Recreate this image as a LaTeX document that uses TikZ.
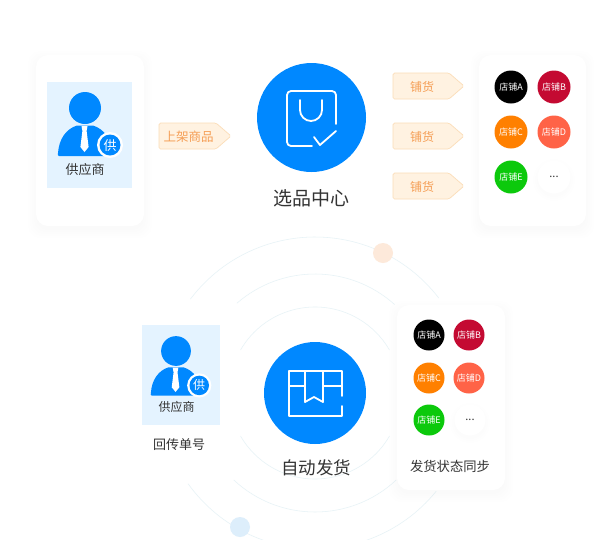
\documentclass[tikz,border=0pt]{standalone}
\usepackage{fontspec}
\setmainfont{Noto Sans CJK SC}
\definecolor{mainblue}{HTML}{0088FF}
\definecolor{panelblue}{HTML}{E4F3FF}
\definecolor{tagfill}{HTML}{FFF2E1}
\definecolor{tagline}{HTML}{FBDDB8}
\definecolor{tagtext}{HTML}{F59E55}
\definecolor{ringline}{HTML}{E6F2F6}
\definecolor{darktext}{HTML}{333333}
\definecolor{shopB}{HTML}{C40A32}
\definecolor{shopC}{HTML}{FF8000}
\definecolor{shopD}{HTML}{FF6347}
\definecolor{shopE}{HTML}{0CC90C}
\definecolor{dotorange}{HTML}{FDE9DA}
\definecolor{dotblue}{HTML}{DDEEFB}
\tikzset{
  x=1pt,y=-1pt,
  ring/.style={draw=ringline,line width=0.55pt},
  icon/.style={draw=white,line width=1.8pt,line cap=round,line join=round},
  hub/.style={circle,fill=mainblue,inner sep=0pt,minimum size=#1},
  shop/.style={circle,inner sep=0pt,text=white,font=\fontsize{9}{9}\selectfont,minimum size=#1},
  moredots/.style={circle,inner sep=0pt,fill=white,text=darktext,font=\fontsize{11}{11}\selectfont,minimum size=#1},
  tagtxt/.style={text=tagtext,inner sep=0pt},
  textlabel/.style={text=darktext,inner sep=0pt},
  tagshape/.style={fill=tagfill,draw=tagline,line width=0.7pt,line join=round},
}
\newcommand{\softcard}[5]{% name x1 y1 x2 y2
  \foreach \e/\o in {10/0.0015,8/0.002,6/0.002,4/0.003,2/0.004,0/0.005}{
    \fill[black,opacity=\o,rounded corners=12pt] (#2-\e,#3-\e+4) rectangle (#4+\e,#5+\e+4);
  }
  \fill[white,rounded corners=12pt] (#2,#3) rectangle (#4,#5);
  \coordinate (#1) at (#2,#3);
}
\newcommand{\tagshp}[7]{% name x1 y1 x2 y2 size text
  \draw[tagshape,rounded corners=1.5pt] (#2,#3) -- (#4-15,#3) -- (#4,{(#3+#5)/2}) -- (#4-15,#5) -- (#2,#5) -- cycle;
  \node[tagtxt,font=\fontsize{#6}{#6}\selectfont] (#1) at ({#2+(#4-#2-15)/2+1},{(#3+#5)/2+1.2}) {#7};
}
\newcommand{\person}[4]{% name x y scale
  \begin{scope}[shift={(#2,#3)},scale=#4]
    \fill[mainblue] (0,0) circle[radius=16];
    \fill[mainblue] (-26,48) .. controls (-27.5,48) and (-27.3,46.5) .. (-27,45)
      .. controls (-26,31) and (-19,21) .. (-8,17.5) -- (8,17.5)
      .. controls (19,21) and (27,31) .. (28,48) -- cycle;
    \fill[white] (-3.5,18) -- (2.5,18) -- (1.6,23) -- (3.6,39) -- (-0.5,44) -- (-4.6,39) -- (-2.6,23) -- cycle;
    \fill[white] (25,37) circle[radius=13];
    \fill[mainblue] (25,37) circle[radius=10.5];
  \end{scope}
  \coordinate (#1) at (#2,#3);
}
\begin{document}
\begin{tikzpicture}
\useasboundingbox (0,0) rectangle (600,539);
\fill[white] (0,0) rectangle (600,539);
\begin{scope}
\clip (0,0) rectangle (600,539);
% rings
\draw[ring] (315,393) ++(-143:156) arc[start angle=-143,end angle=-37.5,radius=156];
\draw[ring] (315,393) ++(39:156) arc[start angle=39,end angle=144.4,radius=156];
\draw[ring] (315,393) ++(-131:119) arc[start angle=-131,end angle=-48,radius=119];
\draw[ring] (315,393) ++(47:119) arc[start angle=47,end angle=133,radius=119];
\draw[ring] (315,393) ++(-150:86) arc[start angle=-150,end angle=-30,radius=86];
\draw[ring] (315,393) ++(30:86) arc[start angle=30,end angle=150,radius=86];
\node[circle,fill=dotorange,minimum size=20pt,inner sep=0pt] (dotO) at (383,253) {};
\node[circle,fill=dotblue,minimum size=20pt,inner sep=0pt] (dotB) at (240,527) {};
\end{scope}

% top left card
\softcard{cardA}{36}{55}{144}{226}
\fill[panelblue] (47,82) rectangle (132,188);
\person{perA}{85}{108}{1}
\node[text=white,font=\fontsize{13}{13}\selectfont,inner sep=0pt] (badgeA) at (110,146) {供};
\node[textlabel,font=\fontsize{13}{13}\selectfont] (supA) at (85,169.5) {供应商};
\tagshp{tagUp}{159}{123}{231}{149}{12.5}{上架商品}

% top hub
\node[hub=109pt] (hubA) at (311.5,117.5) {};
\draw[icon] (312,146) -- (291,146) arc[start angle=90,end angle=180,radius=4] -- (287,95)
  arc[start angle=180,end angle=270,radius=4] -- (332,91)
  arc[start angle=-90,end angle=0,radius=4] -- (336,124);
\draw[icon] (300,100) -- (300,110) arc[start angle=180,end angle=0,radius=11] -- (322,100);
\draw[icon] (314,137) -- (320,145) -- (336,131);
\node[textlabel,font=\fontsize{19}{19}\selectfont] (hubAtxt) at (311,198) {选品中心};

\tagshp{tagA}{393}{73}{464}{99}{12}{铺货}
\tagshp{tagB}{393}{123}{464}{149}{12}{铺货}
\tagshp{tagC}{393}{173}{464}{199}{12}{铺货}

% top right card
\softcard{cardB}{479}{55}{586}{226}
\node[shop=33pt,fill=black] (sA1) at (511,87) {店铺A};
\node[shop=33pt,fill=shopB] (sB1) at (554,87) {店铺B};
\node[shop=33pt,fill=shopC] (sC1) at (511,132) {店铺C};
\node[shop=33pt,fill=shopD] (sD1) at (554,132) {店铺D};
\node[shop=33pt,fill=shopE] (sE1) at (511,177) {店铺E};
\foreach \e/\o in {5/0.002,3/0.003,1/0.004}{\fill[black,opacity=\o] (554,180) circle[radius=16+\e];}
\node[moredots=33pt] (sF1) at (554,177) {...};

% lower left
\fill[panelblue] (142,325) rectangle (220,425);
\person{perB}{176}{351}{0.93}
\node[text=white,font=\fontsize{12}{12}\selectfont,inner sep=0pt] (badgeB) at (199,385) {供};
\node[textlabel,font=\fontsize{12}{12}\selectfont] (supB) at (176.5,407) {供应商};
\node[textlabel,font=\fontsize{13}{13}\selectfont] (back) at (179,445) {回传单号};

% lower hub
\node[hub=102pt] (hubB) at (315,393) {};
\draw[icon] (342,396) -- (342,371) -- (289,371) -- (289,416) -- (342,416) -- (342,406);
\draw[icon] (289,386) -- (305,386);
\draw[icon] (323,386) -- (342,386);
\draw[icon] (305,371) -- (305,402) -- (314,397) -- (323,402) -- (323,371);
\node[textlabel,font=\fontsize{17.5}{17.5}\selectfont] (hubBtxt) at (316,468) {自动发货};

% lower right card
\softcard{cardC}{397}{305}{505}{490}
\node[shop=31pt,fill=black] (sA2) at (429,335) {店铺A};
\node[shop=31pt,fill=shopB] (sB2) at (469,335) {店铺B};
\node[shop=31pt,fill=shopC] (sC2) at (429,378) {店铺C};
\node[shop=31pt,fill=shopD] (sD2) at (469,378) {店铺D};
\node[shop=31pt,fill=shopE] (sE2) at (429,420) {店铺E};
\foreach \e/\o in {5/0.002,3/0.003,1/0.004}{\fill[black,opacity=\o] (470,423) circle[radius=15+\e];}
\node[moredots=31pt] (sF2) at (470,420) {...};
\node[textlabel,font=\fontsize{13.3}{13.3}\selectfont] (sync) at (450,466) {发货状态同步};
\end{tikzpicture}
\end{document}
